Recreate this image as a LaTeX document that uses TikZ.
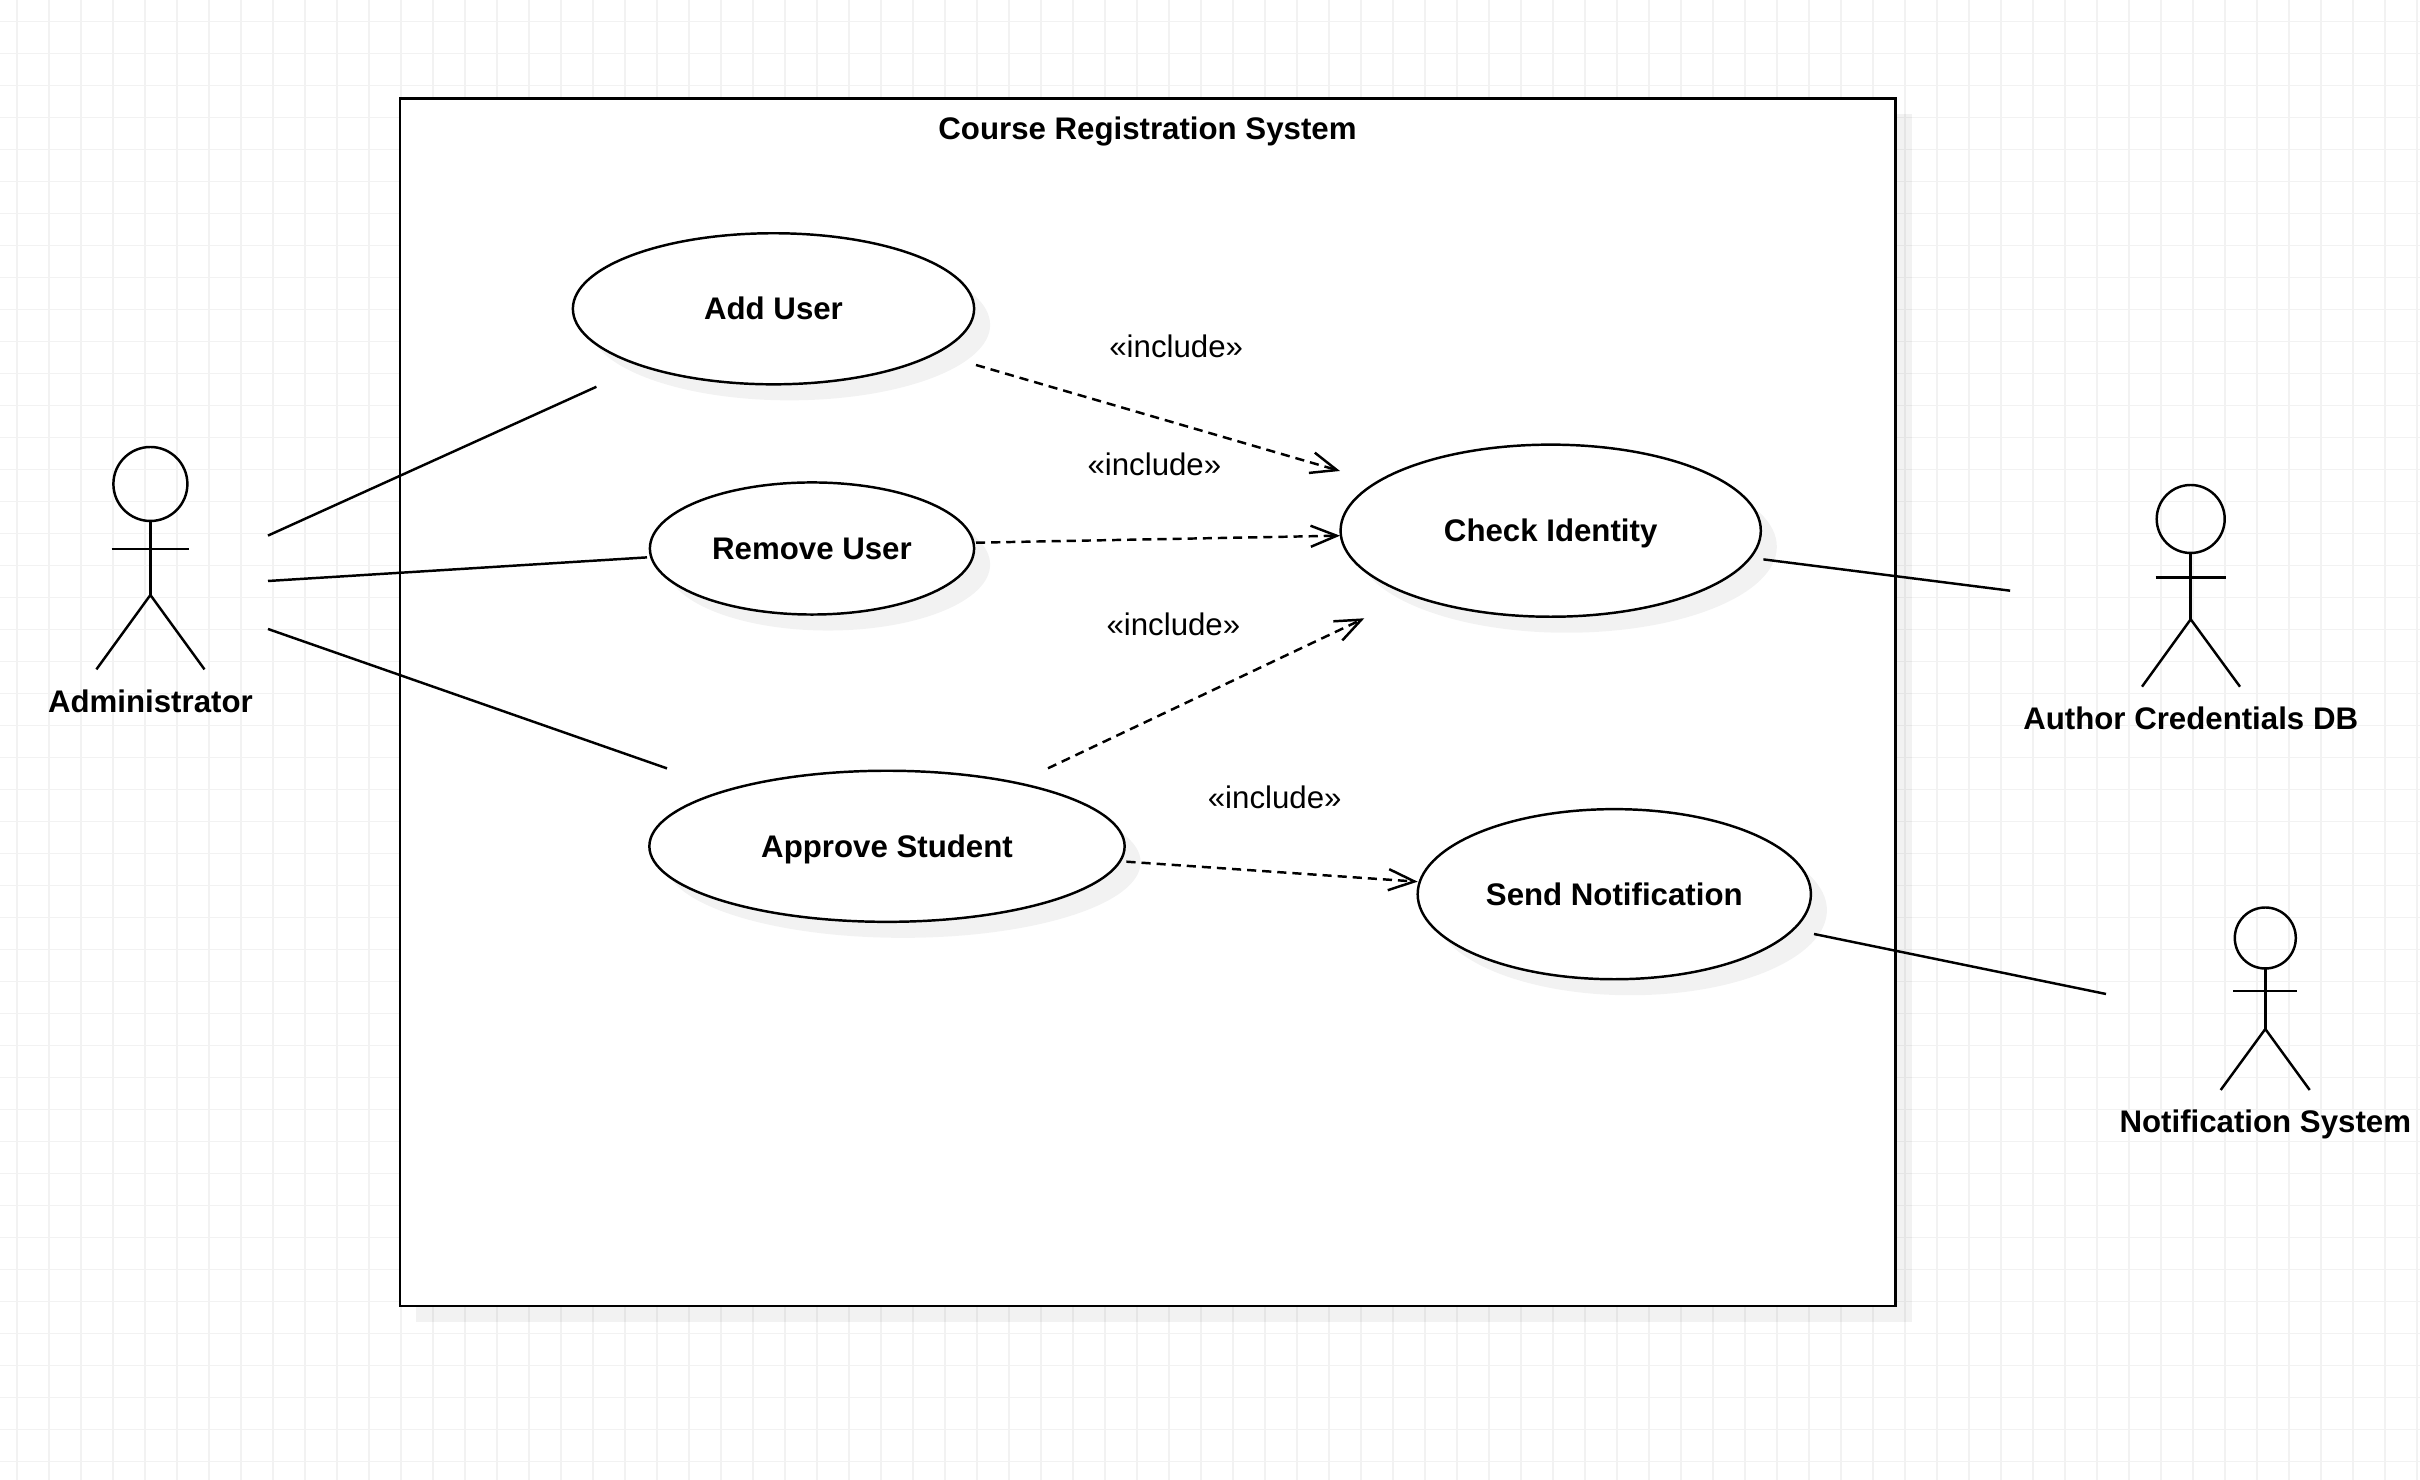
\documentclass[tikz,border=0pt]{standalone}
\usepackage{fontspec}
\setmainfont{Liberation Sans}
\usetikzlibrary{arrows.meta}
\usetikzlibrary{shapes.geometric}
\usetikzlibrary{shadows}
\tikzset{
  gridline/.style={draw=black!5, line width=.3pt},
  usecase/.style={ellipse, draw, fill=white, line width=.7pt, inner sep=0, outer sep=0,
    drop shadow={shadow xshift=.16cm, shadow yshift=-.16cm, opacity=.05, fill=black},
    font=\fontsize{8.88}{10}\selectfont\bfseries, text height=6.3pt, text depth=0pt},
  boldtext/.style={font=\fontsize{8.88}{10}\selectfont\bfseries, inner sep=0, text height=6.3pt, text depth=0pt},
  stereo/.style={font=\fontsize{8.88}{10}\selectfont, inner sep=0, text height=6.3pt, text depth=0pt},
  limb/.style={line width=.7pt},
  assoc/.style={line width=.7pt},
  incl/.style={line width=.7pt, dash pattern=on 2.6pt off 1.7pt, -{Straight Barb[length=7.4pt, width=6pt, line width=.7pt]}},
}

\begin{document}
\begin{tikzpicture}[x=.01cm, y=-.01cm]
\useasboundingbox (0,0) rectangle (2420,1480);
\fill[white] (0,0) rectangle (2420,1480);
\foreach \k in {0,1,...,75} {
  \draw[gridline] ({17+32*\k},0)--++(0,1480);
}
\foreach \k in {0,1,...,45} {
  \draw[gridline] (0,{21.8+32*\k})--++(2420,0);
}
\node[draw, fill=white, line width=.7pt, inner sep=0, outer sep=0, minimum width=14.95cm, minimum height=12.07cm,
  drop shadow={shadow xshift=.16cm, shadow yshift=-.16cm, opacity=.05, fill=black}] (regsystem) at (1147.7,702.3) {};
\node[boldtext] (regtitle) at (1147.5,128.2) {Course Registration System};

\node[usecase, minimum width=4.01cm, minimum height=1.51cm] (adduser) at (773.5,308.8) {Add User};
\node[usecase, minimum width=3.24cm, minimum height=1.32cm] (removeuser) at (812,548.5) {Remove User};
\node[usecase, minimum width=4.75cm, minimum height=1.51cm] (approve) at (887,846.3) {Approve Student};
\node[usecase, minimum width=4.2cm, minimum height=1.72cm] (checkid) at (1550.7,530.7) {Check Identity};
\node[usecase, minimum width=3.93cm, minimum height=1.70cm] (sendnote) at (1614.3,894.2) {Send Notification};

\foreach \n/\x/\yc/\r/\ya/\al/\ar/\yh/\fl/\fr/\yf/\ylab/\txt in {
  admin/150.4/484/37/549/111.6/188.8/595/96.4/204.5/669.4/701.4/Administrator,
  author/2190.7/519/34/577.3/2155.7/2226/619.3/2142/2240/686.7/718/Author Credentials DB,
  notify/2265.3/938/30.5/991/2233.3/2297/1029/2220.7/2309.7/1090/1121/Notification System} {
  \node[circle, draw, line width=.7pt, inner sep=0, outer sep=0, minimum size=2*\r*.01cm] (\n head) at (\x,\yc) {};
  \coordinate (\n hip) at (\x,\yh);
  \draw[limb] (\n head.south)--(\n hip);
  \draw[limb] (\al,\ya)--(\ar,\ya);
  \draw[limb] (\fl,\yf)--(\n hip)--(\fr,\yf);
  \node[boldtext] (\n label) at (\x,\ylab) {\txt};
}

\foreach \n/\x/\y in {adminup/268/535.6, addin/596.4/386.8, adminmid/268/581, removein/647/557.4,
  adminlow/268/629, approvein/667/768.4, checkout/1763.4/559.4, authorin/2010.1/590.7,
  sendout/1814/934, notifyin/2106/994, addout/976/365, checka/1340/471, removeout/976/542.7,
  checkb/1340/535.7, approveup/1048/768.3, checkc/1364.3/618.3, approveout/1126.4/861.7, sendin/1417.7/881.7} {
  \coordinate (\n) at (\x,\y);
}
\foreach \a/\b in {adminup/addin, adminmid/removein, adminlow/approvein, checkout/authorin, sendout/notifyin} {
  \draw[assoc] (\a)--(\b);
}
\foreach \a/\b in {addout/checka, removeout/checkb, approveup/checkc, approveout/sendin} {
  \draw[incl] (\a)--(\b);
}

\foreach \n/\x/\y in {incla/1176.2/346.2, inclb/1154.4/464, inclc/1173.4/624, incld/1274.7/797} {
  \node[stereo] (\n) at (\x,\y) {«include»};
}
\end{tikzpicture}
\end{document}
